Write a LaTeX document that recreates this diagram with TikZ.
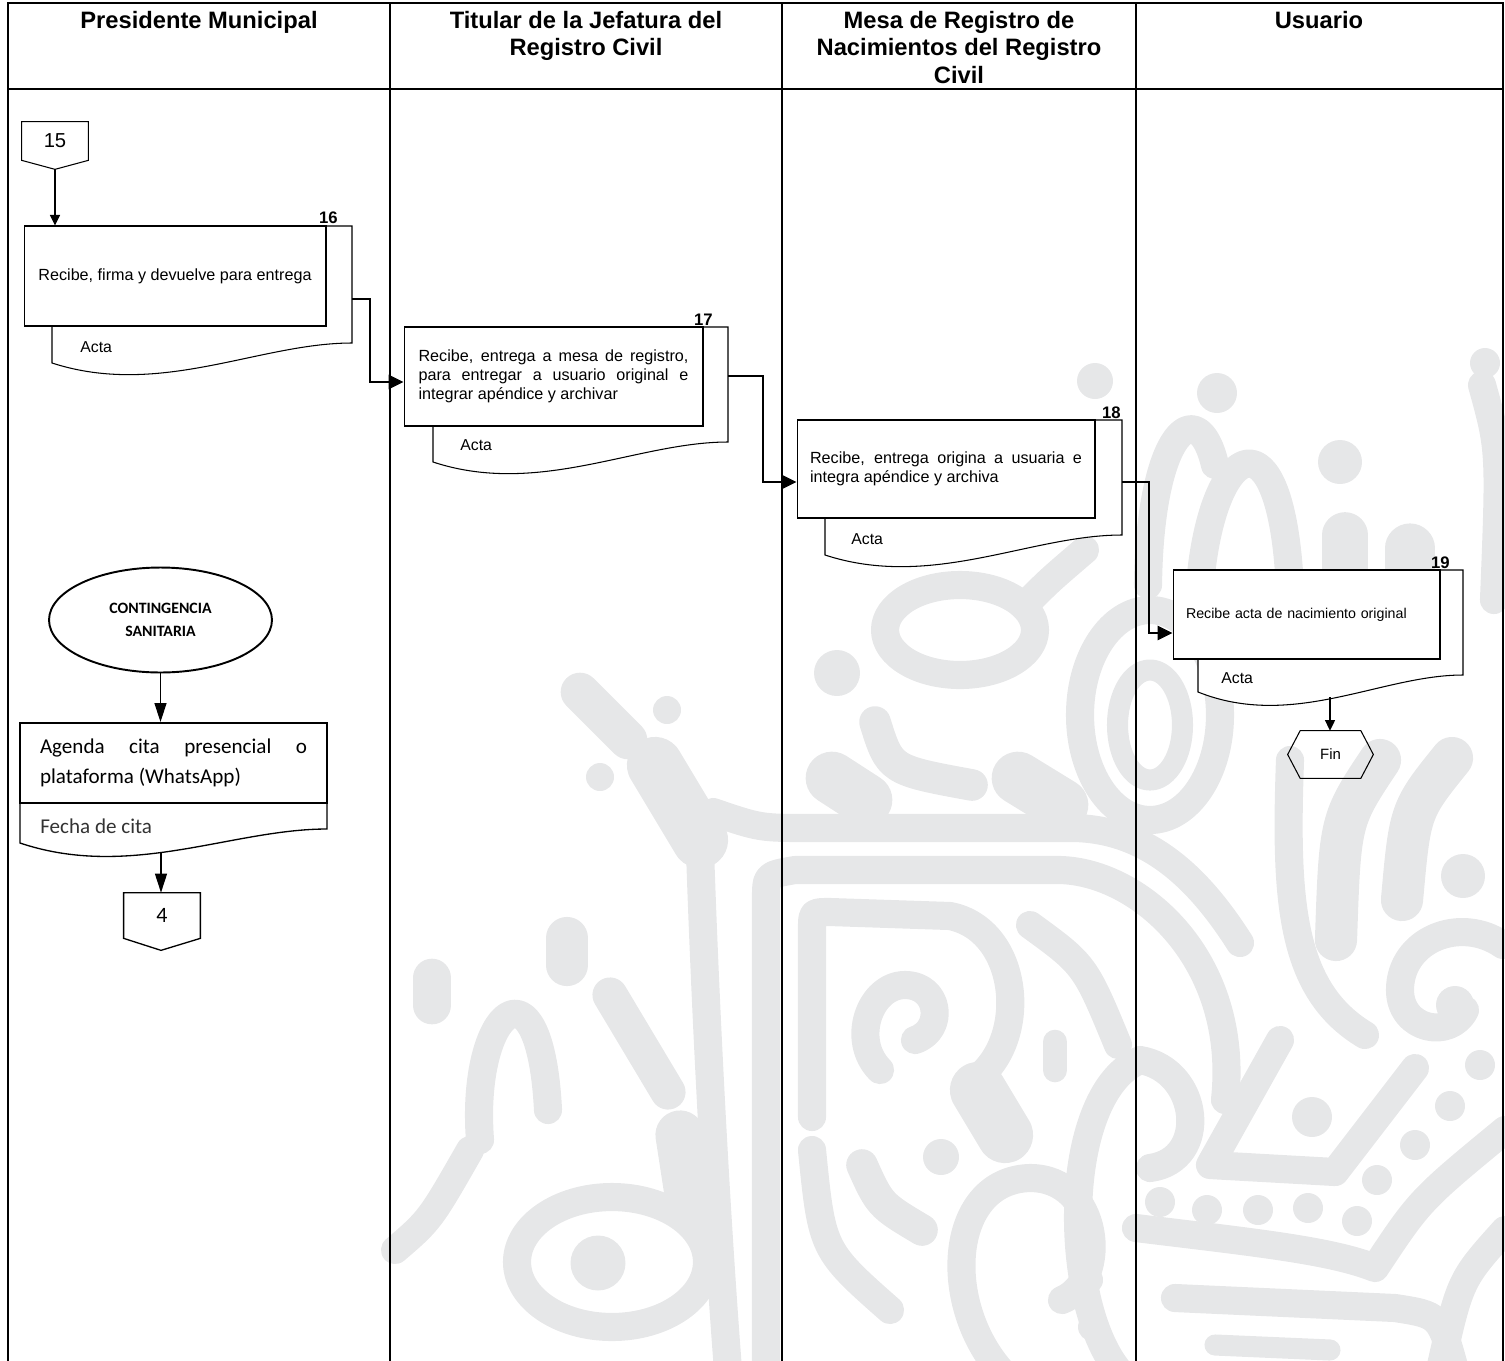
\documentclass[tikz,border=0pt]{standalone}
\usepackage{fontspec}
\usetikzlibrary{arrows.meta,shapes.geometric,calc}
\newfontfamily\arialf{Liberation Sans}
\newfontfamily\calibrif{Carlito}
\definecolor{wmark}{HTML}{E6E7E8}
\hyphenpenalty=10000
\exhyphenpenalty=10000
\tolerance=10000
\hbadness=10000
\tikzset{
  lane/.style={line width=1.2pt, line cap=rect},
  headtxt/.style={font=\arialf\bfseries\fontsize{13.5}{15.6}\selectfont,
                  align=center, anchor=north, inner sep=0pt},
  proc/.style={draw, fill=white, line width=0.6pt, inner sep=0pt,
               font=\arialf\fontsize{9.2}{10.8}\selectfont},
  docshape/.style={draw, fill=white, line width=0.6pt},
  stepnum/.style={font=\arialf\bfseries\fontsize{9.5}{10}\selectfont,
                  anchor=base east, inner sep=0pt},
  doclbl/.style={font=\arialf\fontsize{9}{10}\selectfont, anchor=base west, inner sep=0pt},
  conn/.style={minimum width=1.32cm, minimum height=0.76cm, inner sep=0pt,
               font=\arialf\fontsize{11.5}{13}\selectfont},
  contg/.style={draw, fill=white, ellipse, line width=1.1pt, minimum width=4.46cm,
                minimum height=2.1cm, inner sep=0pt, align=center,
                font=\calibrif\bfseries\fontsize{9}{13}\selectfont},
  agenda/.style={draw, fill=white, line width=1.1pt, inner sep=0pt,
                 minimum width=6.14cm, minimum height=1.6cm, text width=5.34cm,
                 align=justify, font=\calibrif\fontsize{12}{17}\selectfont},
  finnode/.style={minimum width=1.2cm, minimum height=0.94cm, inner sep=0pt,
                  font=\arialf\fontsize{8.5}{10}\selectfont},
  flow/.style={line width=0.6pt, -{Triangle[length=3mm,width=2.9mm]}},
  flowsmall/.style={line width=0.6pt, -{Triangle[length=2.1mm,width=2mm]}},
  flowbig/.style={line width=0.7pt, -{Triangle[length=3.8mm,width=2.4mm]}},
  wm/.style={draw=wmark, line width=16pt, line cap=round, line join=round},
}

\begin{document}
\begin{tikzpicture}[x=0.02cm, y=-0.02cm]
  \useasboundingbox (0,0) rectangle (1505,1360);

  % background ornament
  \draw[wm] (713,812) .. controls (760,828) .. (810,828) -- (1075,828) .. controls (1150,830) and (1200,880) .. (1240,943);
  \draw[wm] (766,1370) -- (766,900) .. controls (766,875) .. (795,870) -- (1060,870) .. controls (1140,872) and (1240,960) .. (1225,1100);
  \draw[wm] (700,850) .. controls (705,1000) and (715,1200) .. (728,1370);
  \draw[wm, line width=22pt] (580,692) -- (628,740);
  \fill[wmark] (667,710) circle[radius=0.28cm];
  \fill[wmark] (600,777) circle[radius=0.28cm];
  \draw[wm, line width=32pt] (655,765) -- (700,840);
  \draw[wm, line width=22pt] (432,978) -- (432,1005);
  \draw[wm, line width=24pt] (567,938) -- (567,965);
  \draw[wm] (480,1140) .. controls (470,1010) and (540,950) .. (548,1110);
  \draw[wm, line width=20pt] (610,995) -- (668,1092);
  \draw[wm, line width=28pt] (680,1135) -- (690,1200);
  \draw[wm] (612,1262) ellipse[x radius=1.9cm, y radius=1.3cm];
  \fill[wmark] (598,1263) circle[radius=0.55cm];
  \draw[wm] (470,1150) .. controls (430,1220) .. (395,1250);
  \draw[wm] (960,630) ellipse[x radius=1.5cm, y radius=0.9cm];
  \draw[wm] (1030,600) .. controls (1050,580) .. (1085,550);
  \fill[wmark] (837,673) circle[radius=0.46cm];
  \draw[wm, line width=18pt] (875,722) .. controls (890,770) .. (972,785);
  \draw[wm, line width=30pt] (832,778) -- (866,800);
  \draw[wm, line width=30pt] (1018,778) -- (1062,805);
  \draw[wm] (1150,715) ellipse[x radius=1.4cm, y radius=2.1cm];
  \draw[wm, line width=12pt] (1150,725) ellipse[x radius=0.65cm, y radius=1.1cm];
  \fill[wmark] (1095,381) circle[radius=0.36cm];
  \draw[wm] (812,1117) -- (812,930) .. controls (812,912) .. (830,912) -- (950,916) .. controls (1020,930) and (1030,1040) .. (975,1080);
  \draw[wm] (880,1070) .. controls (850,1040) and (870,985) .. (905,985) .. controls (940,985) and (945,1030) .. (915,1040);
  \draw[wm] (1030,925) .. controls (1085,965) .. (1118,1045);
  \draw[wm, line width=14pt] (1055,1042) -- (1055,1070);
  \draw[wm, line width=32pt] (978,1090) -- (1005,1135);
  \draw[wm] (812,1150) .. controls (822,1250) .. (890,1310);
  \draw[wm, line width=18pt] (862,1165) .. controls (880,1205) .. (922,1230);
  \draw[wm] (1000,1370) .. controls (940,1300) and (950,1180) .. (1030,1178) .. controls (1100,1178) and (1110,1280) .. (1062,1300);
  \fill[wmark] (941,1157) circle[radius=0.36cm];
  \fill[wmark] (1089,1280) circle[radius=0.28cm];
  \fill[wmark] (1092,1327) circle[radius=0.28cm];
  \draw[wm] (1136,1062) .. controls (1062,1100) and (1062,1300) .. (1118,1370);
  \fill[wmark] (1217,393) circle[radius=0.4cm];
  \fill[wmark] (1340,462) circle[radius=0.44cm];
  \fill[wmark] (1485,363) circle[radius=0.3cm];
  \draw[wm] (1148,585) .. controls (1150,430) and (1198,392) .. (1215,465);
  \draw[wm] (1200,585) .. controls (1212,440) and (1282,405) .. (1290,590);
  \draw[wm, line width=26pt] (1345,535) -- (1345,572);
  \draw[wm, line width=28pt] (1410,548) -- (1410,575);
  \draw[wm] (1482,385) .. controls (1500,450) .. (1494,600);
  \draw[wm] (1290,760) .. controls (1285,900) and (1290,990) .. (1365,1035);
  \draw[wm, line width=24pt] (1380,760) .. controls (1340,820) .. (1336,940);
  \draw[wm, line width=24pt] (1452,758) .. controls (1410,810) .. (1402,900);
  \draw[wm] (1503,945) .. controls (1460,915) and (1400,940) .. (1400,990) .. controls (1400,1030) and (1450,1040) .. (1465,1010);
  \fill[wmark] (1455,1005) circle[radius=0.38cm];
  \fill[wmark] (1463,876) circle[radius=0.44cm];
  \draw[wm] (1280,1040) -- (1210,1165) -- (1335,1172) -- (1415,1068);
  \fill[wmark] (1312,1117) circle[radius=0.4cm];
  \foreach \dx/\dy in {1480/1065,1450/1106,1415/1145,1377/1180,1357/1221,1160/1202,1207/1210,1258/1210,1308/1208}
    \fill[wmark] (\dx,\dy) circle[radius=0.3cm];
  \draw[wm] (1136,1228) .. controls (1250,1242) and (1330,1250) .. (1375,1268) .. controls (1420,1200) .. (1505,1130);
  \draw[wm] (1175,1298) -- (1395,1308) .. controls (1440,1315) .. (1455,1370);
  \draw[wm] (1140,1060) .. controls (1200,1070) and (1210,1160) .. (1150,1168);
  \draw[wm] (1505,1230) .. controls (1460,1280) .. (1440,1370);
  \draw[wm, line width=12pt] (1215,1345) -- (1330,1350);

  % lanes
  \draw[lane] (8,1365) -- (8,3) -- (1503,3) -- (1503,1365);
  \draw[lane] (8,89) -- (1503,89);
  \foreach \cx in {390,782,1136}
    \draw[lane] (\cx,3) -- (\cx,1365);
  \node[headtxt] (hpres) at (199,11) {Presidente Municipal};
  \node[headtxt] (htit) at (586,11) {Titular de la Jefatura del\\Registro Civil};
  \node[headtxt] (hmesa) at (959,11) {Mesa de Registro de\\Nacimientos del Registro\\Civil};
  \node[headtxt] (husu) at (1319,11) {Usuario};

  % connector 15
  \node[conn] (c15) at (55,141) {15};
  \coordinate (c15tip) at ($(c15.south)+(0,9)$);
  \draw[line width=0.6pt] (c15.north west) -- (c15.north east) -- (c15.south east) -- (c15tip) -- (c15.south west) -- cycle;

  % 16
  \draw[docshape] (52,226) -- (352,226) -- (352,343) .. controls (259,343) and (160,398) .. (52,363) -- cycle;
  \node[proc, minimum width=6.04cm, minimum height=2cm, align=center] (p16) at (175,276) {Recibe, firma y devuelve para entrega};
  \node[stepnum] (n16) at (338,223) {16};
  \node[doclbl] (a16) at (80,352) {Acta};
  \coordinate (d16e) at (352,299);
  \coordinate (j16) at (370,299);
  \draw[flowsmall] (c15tip) -- (c15tip |- p16.north);

  % 17
  \draw[docshape] (433,327) -- (728,327) -- (728,442) .. controls (637,442) and (539,497) .. (433,462) -- cycle;
  \node[proc, minimum width=5.98cm, minimum height=1.98cm, text width=5.4cm, align=justify] (p17) at (553.5,376.5)
    {Recibe, entrega a mesa de registro, para entregar a usuario original e integrar apéndice y archivar};
  \node[stepnum] (n17) at (713,325) {17};
  \node[doclbl] (a17) at (460,450) {Acta};
  \coordinate (d17e) at (728,376);
  \coordinate (j17) at (763,376);
  \draw[flow] (d16e) -- (j16) |- ([yshift=-0.11cm]p17.west);

  % 18
  \draw[docshape] (825,420) -- (1122,420) -- (1122,535) .. controls (1030,535) and (932,590) .. (825,555) -- cycle;
  \node[proc, minimum width=5.96cm, minimum height=1.96cm, text width=5.44cm, align=justify] (p18) at (946,469)
    {Recibe, entrega origina a usuaria e integra apéndice y archiva};
  \node[stepnum] (n18) at (1121,418) {18};
  \node[doclbl] (a18) at (851,544) {Acta};
  \coordinate (d18e) at (1122,482);
  \coordinate (j18) at (1149,482);
  \draw[flow] (d17e) -- (j17) |- ([yshift=-0.26cm]p18.west);

  % 19
  \draw[docshape] (1198,570) -- (1463,570) -- (1463,675) .. controls (1381,675) and (1293,730) .. (1198,692) -- cycle;
  \node[proc, minimum width=5.34cm, minimum height=1.78cm, text width=4.82cm, align=left,
        font=\arialf\fontsize{8.1}{10}\selectfont] (p19) at (1306.5,614.5) {Recibe acta de nacimiento original};
  \node[stepnum] (n19) at (1450,568) {19};
  \node[doclbl] (a19) at (1221,683) {Acta};
  \coordinate (d19b) at (1330,697);
  \draw[flow] (d18e) -- (j18) |- ([yshift=-0.37cm]p19.west);

  % fin
  \node[finnode] (fin) at (1330.5,754.5) {Fin};
  \draw[line width=0.6pt] (fin.north west) -- (fin.north east) -- ($(fin.east)+(12.5,0)$) -- (fin.south east)
    -- (fin.south west) -- ($(fin.west)+(-12.5,0)$) -- cycle;
  \draw[flowsmall] (d19b) -- (d19b |- fin.north);

  % contingencia
  \node[contg] (cont) at (160.5,620) {CONTINGENCIA\\SANITARIA};
  \draw[docshape, line width=0.75pt] (20,803) -- (327,803) -- (327,829) .. controls (232,829) and (130,880) .. (20,843) -- cycle;
  \node[agenda] (p20) at (173.5,763) {Agenda cita presencial o plataforma (WhatsApp)};
  \node[doclbl, font=\calibrif\fontsize{12}{14}\selectfont, text=black!80] (a20) at (40,833) {Fecha de cita};
  \coordinate (d20b) at (161,852);
  \draw[flowbig] (cont.south) -- (cont.south |- p20.north);

  % connector 4
  \node[conn, minimum width=1.52cm, minimum height=0.9cm, font=\calibrif\fontsize{12.5}{14}\selectfont] (c4) at (162,915.5) {4};
  \coordinate (c4tip) at ($(c4.south)+(-1,12)$);
  \draw[line width=0.75pt] (c4.north west) -- (c4.north east) -- (c4.south east) -- (c4tip) -- (c4.south west) -- cycle;
  \draw[flowbig] (d20b) -- (d20b |- c4.north);
\end{tikzpicture}
\end{document}
